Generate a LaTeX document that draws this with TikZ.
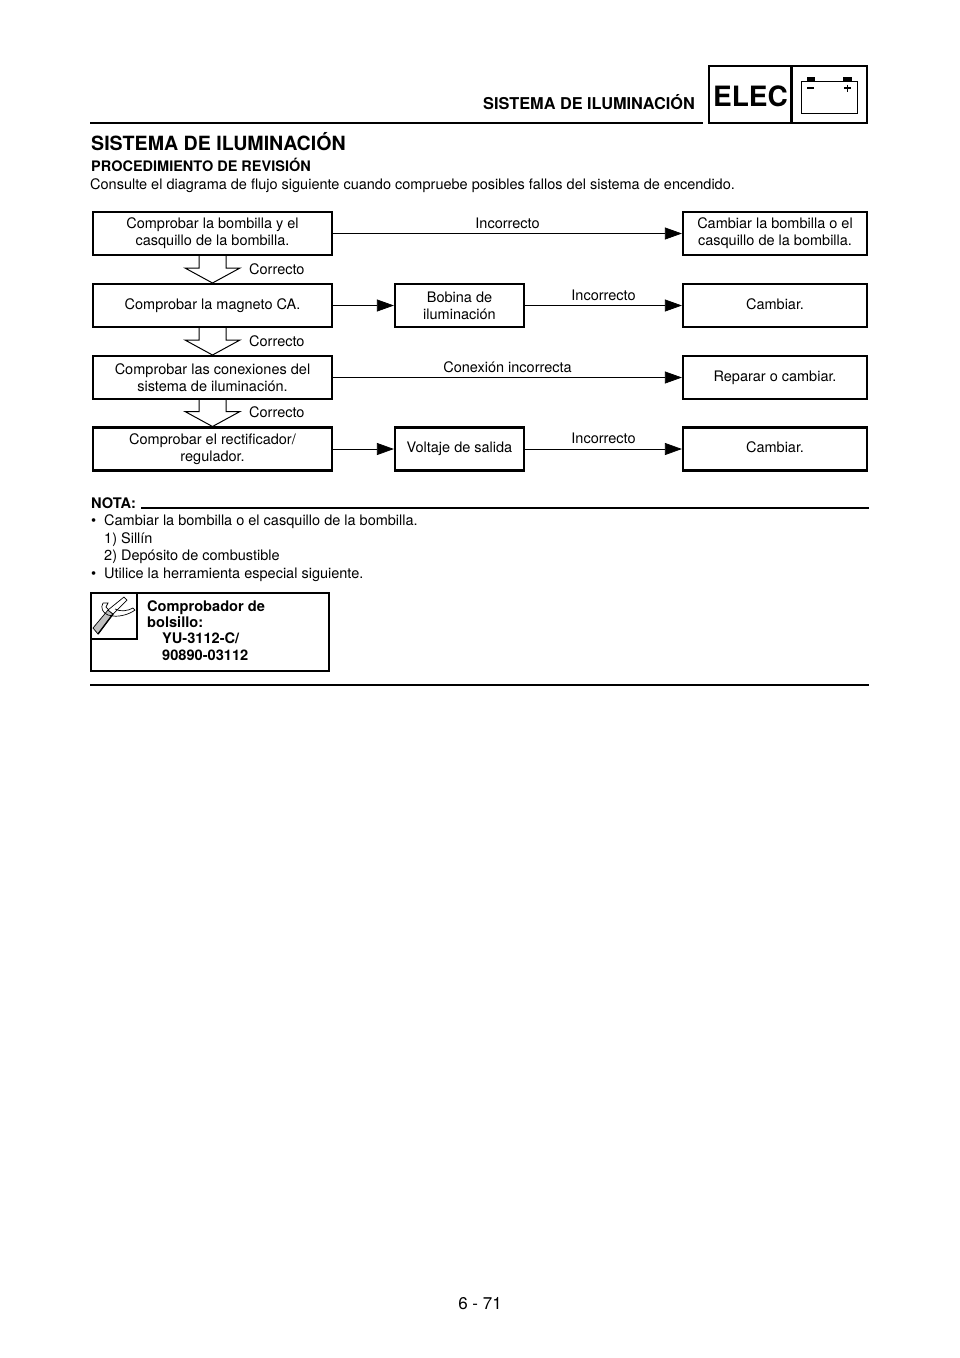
\documentclass[tikz,border=0pt]{standalone}
\usepackage{fontspec}
\setmainfont{TeX Gyre Heros}
\usetikzlibrary{arrows.meta}
\tikzset{
  x=1pt,y=-1pt,
  txt/.style={inner sep=0pt,font=\fontsize{14.5}{17}\selectfont,align=center},
  txtl/.style={txt,anchor=base west},
  bold/.style={txtl,font=\fontsize{14.6}{16.5}\selectfont\bfseries},
  checkbox/.style={draw,line width=2.2pt,minimum height=43pt,txt,draw},
  widebox/.style={checkbox,minimum width=239pt},
  endbox/.style={checkbox,minimum width=184pt},
  midbox/.style={checkbox,minimum width=129pt},
  flow/.style={line width=0.7pt,-{Triangle[length=17pt,width=12pt]}},
  heavy/.style={line width=2.4pt},
}
\newcommand{\okarrow}[2]{% hollow arrow below a box
  \draw [line width=1pt,line join=miter] (199,#1) -- (199,#1+13) -- (185,#1+13) -- (212.5,#1+28)
    -- (240,#1+13) -- (226,#1+13) -- (226,#1);
  \node [txtl] (#2) at (249,#1+19) {Correcto};
}
\begin{document}
\begin{tikzpicture}
  \useasboundingbox (0,0) rectangle (960,1358);

  % header
  \draw [heavy] (90,123) -- (703,123);
  \node [bold,anchor=base east,font=\fontsize{16.3}{18}\selectfont\bfseries] (head) at (695,109) {SISTEMA DE ILUMINACIÓN};
  \draw [line width=2.6pt] (709,66) rectangle (867,123);
  \draw [line width=2.6pt] (791.5,66) -- (791.5,123);
  \node [inner sep=0pt,font=\fontsize{28}{30}\selectfont\bfseries] (elec) at (750.5,96) {ELEC};
  % battery
  \draw [line width=0.8pt] (801,81) rectangle (857,113);
  \fill (807,77) rectangle (815,81);
  \fill (843,77) rectangle (852,81);
  \draw [line width=1.2pt] (807,88) -- (814,88);
  \draw [line width=1.2pt] (844,88) -- (851,88) (847.5,84.5) -- (847.5,91.5);

  \node [bold,font=\fontsize{19.6}{21}\selectfont\bfseries] (title) at (91,150) {SISTEMA DE ILUMINACIÓN};
  \node [bold,font=\fontsize{14.5}{16}\selectfont\bfseries] (proc) at (91,171) {PROCEDIMIENTO DE REVISIÓN};
  \node [txtl] (intro) at (90,189) {Consulte el diagrama de flujo siguiente cuando compruebe posibles fallos del sistema de encendido.};

  % left column
  \node [widebox] (bulb) at (212.5,233.5) {Comprobar la bombilla y el\\casquillo de la bombilla.};
  \node [widebox] (magneto) at (212.5,305.5) {Comprobar la magneto CA.};
  \node [widebox] (conn) at (212.5,377.5) {Comprobar las conexiones del\\sistema de iluminación.};
  \node [widebox] (rect) at (212.5,449) {Comprobar el rectificador/\\regulador.};

  \okarrow{255}{okA}
  \okarrow{327}{okB}
  \okarrow{398.5}{okC}

  % middle column
  \node [midbox] (coil) at (459.5,305.5) {Bobina de\\iluminación};
  \node [midbox] (volt) at (459.5,449) {Voltaje de salida};

  % right column
  \node [endbox] (chgbulb) at (775,233.5) {Cambiar la bombilla o el\\casquillo de la bombilla.};
  \node [endbox] (chgA) at (775,305.5) {Cambiar.\vphantom{p}};
  \node [endbox] (fix) at (775,377.5) {Reparar o cambiar.};
  \node [endbox] (chgB) at (775,449) {Cambiar.\vphantom{p}};

  \draw [flow] (bulb) -- (chgbulb);
  \draw [flow] (magneto) -- (coil);
  \draw [flow] (coil) -- (chgA);
  \draw [flow] (conn) -- (fix);
  \draw [flow] (rect) -- (volt);
  \draw [flow] (volt) -- (chgB);

  \node [txt,anchor=base] (badA) at (507.5,228) {Incorrecto};
  \node [txt,anchor=base] (badB) at (603.5,300) {Incorrecto};
  \node [txt,anchor=base] (badC) at (507.5,372) {Conexión incorrecta};
  \node [txt,anchor=base] (badD) at (603.5,443) {Incorrecto};

  % note
  \node [bold] (nota) at (91,508) {NOTA:};
  \draw [heavy] (141,508) -- (869,508);
  \node [txtl] (dotA) at (91,525) {•};
  \node [txtl] (noteA) at (104,525) {Cambiar la bombilla o el casquillo de la bombilla.};
  \node [txtl] (noteB) at (104,543) {1) Sillín};
  \node [txtl] (noteC) at (104,560) {2) Depósito de combustible};
  \node [txtl] (dotB) at (91,578) {•};
  \node [txtl] (noteD) at (104,578) {Utilice la herramienta especial siguiente.};

  % tool box
  \draw [heavy] (91,593) rectangle (329,671);
  \draw [heavy] (91,593) rectangle (137,639);
  \node [bold] (toolA) at (147,611) {Comprobador de};
  \node [bold] (toolB) at (147,627) {bolsillo:};
  \node [bold] (toolC) at (162,643) {YU-3112-C/};
  \node [bold] (toolD) at (162,660) {90890-03112};
  % tool icon
  \draw [line width=0.7pt,fill=black!25] (93,628) -- (98,634) -- (113,614) -- (108,610) -- cycle;
  \draw [line width=1.4pt] (98,634) -- (113,614);
  \draw [line width=0.7pt,fill=white] (108,610) -- (124,597) -- (127,600) -- (113,614) -- cycle;
  \draw [line width=0.7pt] (103,603) .. controls (100,608) and (103,613) .. (108,615)
    -- (113,616) .. controls (120,617) and (130,614) .. (135,610) -- (133,608)
    .. controls (128,611) and (120,612) .. (115,609);
  \draw [line width=0.7pt] (103,603) -- (108,603) -- (106,607) -- (109,610);

  \draw [heavy] (90,685) -- (869,685);

  \node [inner sep=0pt,font=\fontsize{17}{18}\selectfont] (page) at (480,1304) {6 - 71};
\end{tikzpicture}
\end{document}
